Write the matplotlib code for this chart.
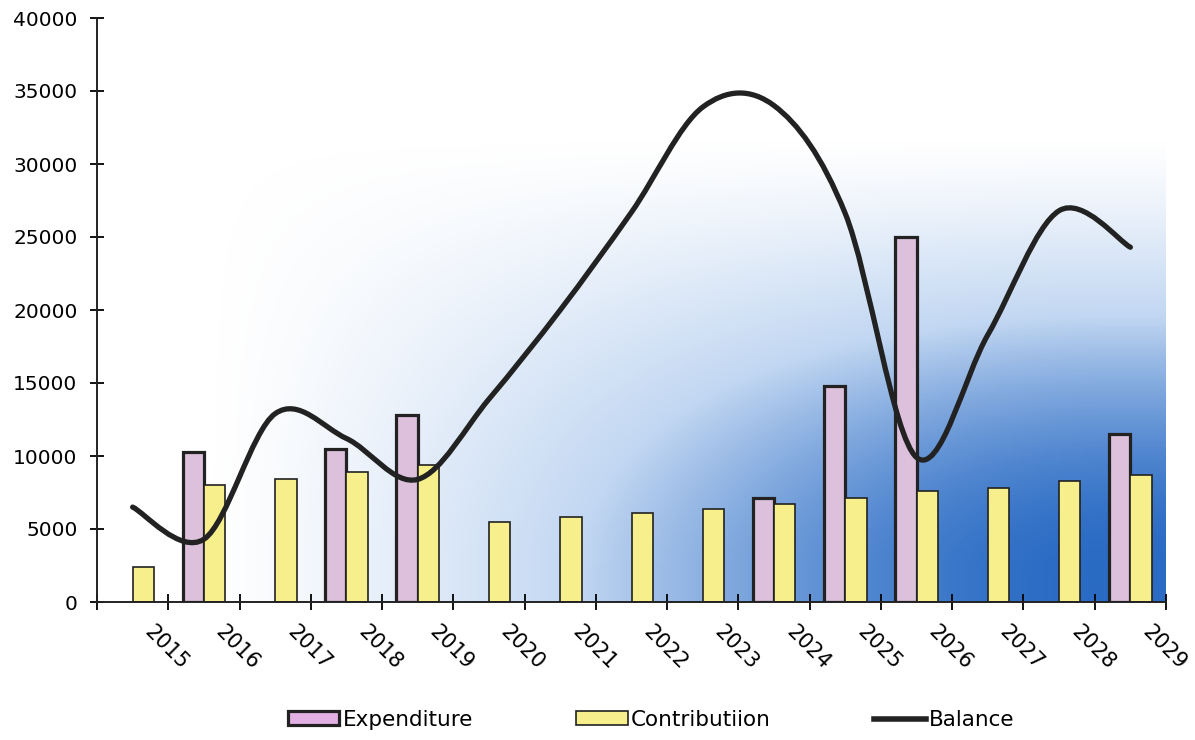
import numpy as np
import matplotlib.pyplot as plt
import matplotlib.transforms as mtransforms
from matplotlib.path import Path
from matplotlib.patches import PathPatch, Patch
from matplotlib.lines import Line2D
from matplotlib.colors import LinearSegmentedColormap

years = [str(y) for y in range(2015, 2030)]
expenditure = [0, 10300, 0, 10500, 12800, 0, 0, 0, 0, 7100, 14800, 25000, 0, 0, 11500]
contribution = [2400, 8000, 8400, 8900, 9400, 5500, 5800, 6100, 6400, 6700, 7100, 7600, 7800, 8300, 8700]
balance = [6500, 4300, 12900, 11200, 8400, 13900, 20000, 26700, 33900, 34000, 26600, 9900, 18300, 26800, 24300]

EXP_COLOR = '#dcc0dc'
CON_COLOR = '#f6ef8c'
INK = '#222222'


def smooth_path(xs, ys):
    # smoothed line through every point (Catmull-Rom turned into cubic Beziers)
    xs = np.asarray(xs, float)
    ys = np.asarray(ys, float)
    n = len(xs)
    verts = [(xs[0], ys[0])]
    codes = [Path.MOVETO]
    for i in range(n - 1):
        i0 = max(i - 1, 0)
        i3 = min(i + 2, n - 1)
        c1 = (xs[i] + (xs[i + 1] - xs[i0]) / 6, ys[i] + (ys[i + 1] - ys[i0]) / 6)
        c2 = (xs[i + 1] - (xs[i3] - xs[i]) / 6, ys[i + 1] - (ys[i3] - ys[i]) / 6)
        verts += [c1, c2, (xs[i + 1], ys[i + 1])]
        codes += [Path.CURVE4] * 3
    return Path(verts, codes)


def smoothstep(u):
    u = np.clip(u, 0, 1)
    return u * u * (3 - 2 * u)


fig = plt.figure(figsize=(11.95, 7.4), dpi=100)
ax = fig.add_axes([97 / 1195, 1 - 602 / 740, (1166 - 97) / 1195, (602 - 18) / 740])

x = np.arange(len(years))
xmin, xmax = -0.5, len(years) - 0.5
ymax = 40000

# background wash: white top-left fading into blue bottom-right
gx, gy = np.meshgrid(np.linspace(0, 1, 400), np.linspace(0, 1, 300))
a = smoothstep((gx - 0.1) / 0.85)
b = smoothstep((0.8 - gy) / 0.75)
t = (a * b) ** 0.7
wash = LinearSegmentedColormap.from_list('wash', ['#ffffff', '#c2d7f2', '#2a6bc4'])
ax.imshow(wash(t), extent=(xmin, xmax, 0, ymax), origin='lower', aspect='auto', zorder=0)

w = 0.30
exp = np.array(expenditure, float)
has_exp = exp > 0
ax.bar(x[has_exp] - w / 2, exp[has_exp], width=w, color=EXP_COLOR, edgecolor=INK,
       linewidth=2.3, zorder=2)
ax.bar(x + w / 2, contribution, width=w, color=CON_COLOR, edgecolor=INK,
       linewidth=1.2, zorder=2)

ax.add_patch(PathPatch(smooth_path(x, balance), fill=False, edgecolor=INK, linewidth=3.8,
                       capstyle='round', joinstyle='round', zorder=3))

ax.set_xlim(xmin, xmax)
ax.set_ylim(0, ymax)
ax.set_yticks(np.arange(0, ymax + 1, 5000))
ax.tick_params(axis='y', direction='inout', length=10, width=1.3, pad=9, labelsize=14.5)

# boundary ticks between years, labels centred in each slot
ax.set_xticks(np.arange(xmin, xmax + 0.01, 1.0))
ax.set_xticklabels([])
ax.set_xticks(x, minor=True)
ax.set_xticklabels(years, minor=True, rotation=-45, ha='center', va='top', fontsize=15)
ax.tick_params(axis='x', which='major', direction='inout', length=12, width=1.3)
ax.tick_params(axis='x', which='minor', length=0, pad=14)
shift = mtransforms.ScaledTranslation(0.34, 0, fig.dpi_scale_trans)
for lbl in ax.get_xticklabels(minor=True):
    lbl.set_transform(lbl.get_transform() + shift)

for side in ('top', 'right'):
    ax.spines[side].set_visible(False)
for side in ('left', 'bottom'):
    ax.spines[side].set_linewidth(1.4)
    ax.spines[side].set_color(INK)
    ax.spines[side].set_zorder(4)

handles = [
    Patch(facecolor='#e2b0e2', edgecolor=INK, linewidth=2.3, label='Expenditure'),
    Patch(facecolor=CON_COLOR, edgecolor=INK, linewidth=1.2, label='Contributiion'),
    Line2D([], [], color=INK, linewidth=4, label='Balance'),
]
fig.legend(handles=handles, loc='center', bbox_to_anchor=(0.545, 0.027), ncol=3,
           frameon=False, fontsize=15.5, handlelength=2.4, handleheight=0.62,
           handletextpad=0.15, columnspacing=4.8)

fig.savefig('out.png', dpi=100)
